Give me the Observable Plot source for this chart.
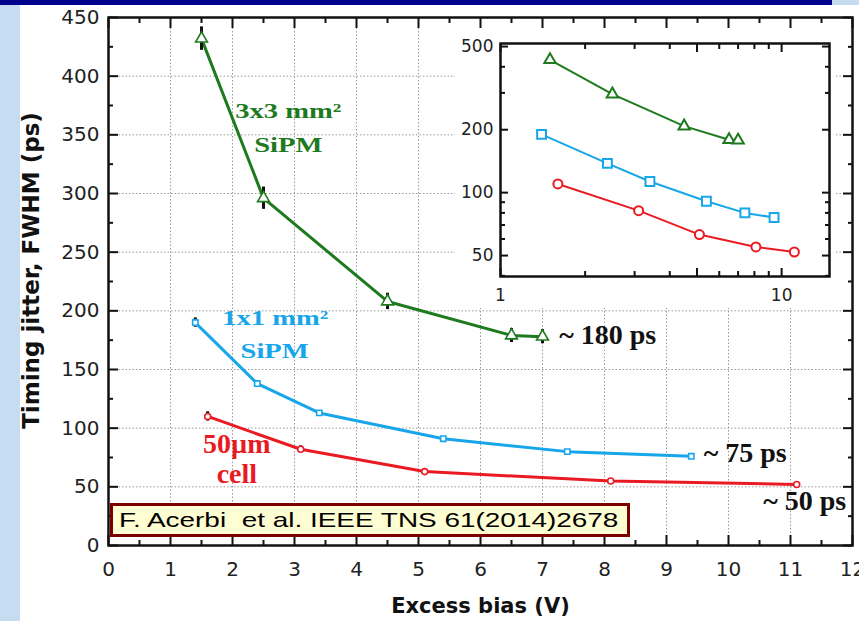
<!DOCTYPE html>
<html>
<head>
<meta charset="utf-8">
<script src="https://cdn.jsdelivr.net/npm/d3@7"></script>
<script src="https://cdn.jsdelivr.net/npm/@observablehq/plot@0.6"></script>
<style>
  html, body { margin: 0; padding: 0; background: #fff; }
  #slide { position: relative; width: 859px; height: 621px; overflow: hidden; background: #fff; }
  #strip { position: absolute; left: 0; top: 0; width: 20px; height: 621px; background: #c6dcf1; }
  #bar { position: absolute; left: 0; top: 0; width: 832px; height: 5px; background: #00008c; }
  #barEnd { position: absolute; left: 832px; top: 0; width: 27px; height: 5px; background: #c6dcf1; }
  #main { position: absolute; left: 0; top: 0; }
  #inset { position: absolute; left: 455px; top: 28px; }
  #cite { position: absolute; left: 110px; top: 503px; width: 520px; height: 34px; box-sizing: border-box;
          border: 3px solid #7d0000; background: #fffdd2; }
  #cite span { position: absolute; left: 6px; top: 0; line-height: 28px; font-family: "Liberation Sans", Arial, sans-serif;
               font-size: 21px; color: #000; white-space: pre; transform: scaleX(1.33); transform-origin: left center; }
</style>
</head>
<body>
<div id="slide">
  <div id="strip"></div>
  <div id="bar"></div>
  <div id="barEnd"></div>
  <div id="main"></div>
  <div id="inset"></div>
  <div id="cite"><span>F. Acerbi  et al. IEEE TNS 61(2014)2678</span></div>
</div>
<script>
// Timing jitter (FWHM, ps) versus excess bias (V) for three devices
const seriesNames = ["3x3", "1x1", "50µm"];

const bias3x3   = [1.5, 2.5, 4.5, 6.5, 7.0];
const jitter3x3 = [432, 296, 208, 179, 178];
const err3x3    = [10, 9.5, 7, 6, 6];

const bias1x1   = [1.4, 2.4, 3.4, 5.4, 7.4, 9.4];
const jitter1x1 = [190, 138, 113, 91, 80, 76];
const err1x1    = [4, 0, 0, 0, 0, 0];

const bias50    = [1.6, 3.1, 5.1, 8.1, 11.1];
const jitter50  = [110, 82, 63, 55, 52];
const err50     = [4, 3, 0, 0, 0];

// tick values
const xTicks = d3.range(0, 13);
const xMinor = d3.range(0.5, 12, 1);
const yTicks = d3.range(0, 451, 50);
const yMinor = d3.range(25, 450, 50);
const insetXTicks = [1, 5, 10];
const insetXMinor = [2, 3, 4, 6, 7, 8, 9];
const insetYTicks = [50, 100, 200, 500];
const insetYMinor = [40, 60, 70, 80, 90, 300, 400];

// text annotations (data units)
const deviceLabels = [
  {text: "3x3 mm²", x: 2.90, y: 364, series: "3x3"},
  {text: "SiPM",    x: 2.90, y: 335, series: "3x3"},
  {text: "1x1 mm²", x: 2.69, y: 188, series: "1x1"},
  {text: "SiPM",    x: 2.68, y: 160, series: "1x1"}
];
const cellLabels = [
  {text: "50µm", x: 2.07, y: 79, series: "50µm"},
  {text: "cell", x: 2.07, y: 53, series: "50µm"}
];
const plateauLabels = [
  {text: "~ 180 ps", x: 7.27, y: 172},
  {text: "~ 75 ps",  x: 9.60, y: 71},
  {text: "~ 50 ps",  x: 10.56, y: 30}
];
const xTitle = "Excess bias (V)";
const yTitle = "Timing jitter, FWHM (ps)";

// build a tidy table from the arrays
const rows = [
  ...bias3x3.map((b, i) => ({series: "3x3", bias: b, jitter: jitter3x3[i], err: err3x3[i]})),
  ...bias1x1.map((b, i) => ({series: "1x1", bias: b, jitter: jitter1x1[i], err: err1x1[i]})),
  ...bias50.map((b, i) => ({series: "50µm", bias: b, jitter: jitter50[i], err: err50[i]}))
];

const colors = {domain: seriesNames, range: ["#1e7a1e", "#17a6ea", "#ea1a22"]};
const symbols = {domain: seriesNames, range: ["triangle", "square", "circle"]};
const mainR = {"3x3": 4.4, "1x1": 3.0, "50µm": 3.0};
const insetR = {"3x3": 4.2, "1x1": 5.0, "50µm": 4.5};

const ink = "#111";
const empty = () => "";

function boxTicks(xMaj, xMin, yMaj, yMin, majLen, minLen) {
  const out = [];
  for (const anchor of ["bottom", "top"]) {
    out.push(Plot.axisX(xMaj, {anchor, tickSize: -majLen, tickFormat: empty, label: null, stroke: ink, strokeWidth: 2}));
    out.push(Plot.axisX(xMin, {anchor, tickSize: -minLen, tickFormat: empty, label: null, stroke: ink, strokeWidth: 2}));
  }
  for (const anchor of ["left", "right"]) {
    out.push(Plot.axisY(yMaj, {anchor, tickSize: -majLen, tickFormat: empty, label: null, stroke: ink, strokeWidth: 2}));
    out.push(Plot.axisY(yMin, {anchor, tickSize: -minLen, tickFormat: empty, label: null, stroke: ink, strokeWidth: 2}));
  }
  return out;
}

const main = Plot.plot({
  width: 859,
  height: 621,
  marginLeft: 108,
  marginRight: 7,
  marginTop: 17,
  marginBottom: 76,
  style: {background: "transparent", fontFamily: "DejaVu Sans", fontSize: "20px", color: "#222", overflow: "visible"},
  x: {domain: [0, 12], axis: null, label: null},
  y: {domain: [0, 450], axis: null, label: null},
  color: colors,
  symbol: symbols,
  marks: [
    Plot.gridX(xTicks, {stroke: "#9a9a9a", strokeOpacity: 1, strokeDasharray: "1.5,2"}),
    Plot.gridY(yTicks, {stroke: "#9a9a9a", strokeOpacity: 1, strokeDasharray: "1.5,2"}),
    Plot.line(rows, {x: "bias", y: "jitter", z: "series", stroke: "series", strokeWidth: 3}),
    Plot.ruleX(rows.filter(d => d.err > 0), {x: "bias", y1: d => d.jitter - d.err, y2: d => d.jitter + d.err, stroke: ink, strokeWidth: 3}),
    ...seriesNames.map(s => Plot.dot(rows.filter(d => d.series === s), {
      x: "bias", y: "jitter", stroke: "series", symbol: "series", fill: "white", r: mainR[s], strokeWidth: 1.6
    })),
    Plot.text(deviceLabels, {x: "x", y: "y", text: "text", fill: "series", fontFamily: "Liberation Serif",
      fontWeight: "bold", fontSize: 22, textAnchor: "middle", lineAnchor: "bottom"}),
    Plot.text(cellLabels, {x: "x", y: "y", text: "text", fill: "series", fontFamily: "Liberation Serif",
      fontWeight: "bold", fontSize: 28, textAnchor: "middle", lineAnchor: "bottom"}),
    Plot.text(plateauLabels, {x: "x", y: "y", text: "text", fill: ink, fontFamily: "Liberation Serif",
      fontWeight: "bold", fontSize: 28, textAnchor: "start", lineAnchor: "bottom"}),
    Plot.frame({stroke: ink, strokeWidth: 2.5}),
    ...boxTicks(xTicks, xMinor, yTicks, yMinor, 10, 5),
    Plot.axisX(xTicks, {anchor: "bottom", tickSize: 0, tickPadding: 16, label: null, fill: "#222"}),
    Plot.axisY(yTicks, {anchor: "left", tickSize: 0, tickPadding: 9, label: null, fill: "#222"}),
    Plot.text([xTitle], {text: d => d, frameAnchor: "bottom", dy: 67, lineAnchor: "bottom", textAnchor: "middle",
      fontFamily: "DejaVu Sans", fontWeight: "bold", fontSize: 21, fill: ink}),
    Plot.text([yTitle], {text: d => d, frameAnchor: "left", dx: -77, dy: -11, rotate: -90, lineAnchor: "middle",
      textAnchor: "middle", fontFamily: "DejaVu Sans", fontWeight: "bold", fontSize: 23, fill: ink})
  ]
});

// device labels are set in a wide face: stretch them horizontally
d3.select(main).selectAll('g[font-size="22"] text').each(function() {
  const t = this.getAttribute("transform") || "";
  this.setAttribute("transform", t + " scale(1.3,1)");
});

document.getElementById("main").appendChild(main);

const inset = Plot.plot({
  width: 381,
  height: 280,
  marginLeft: 45,
  marginRight: 7,
  marginTop: 15,
  marginBottom: 32,
  style: {background: "white", fontFamily: "DejaVu Sans", fontSize: "17px", color: "#222"},
  x: {type: "log", domain: [1, 14.8], axis: null, label: null},
  y: {type: "log", domain: [39.7, 517], axis: null, label: null},
  color: colors,
  symbol: symbols,
  marks: [
    Plot.line(rows, {x: "bias", y: "jitter", z: "series", stroke: "series", strokeWidth: 2}),
    ...seriesNames.map(s => Plot.dot(rows.filter(d => d.series === s), {
      x: "bias", y: "jitter", stroke: "series", symbol: "series", fill: "white", r: insetR[s], strokeWidth: 2
    })),
    Plot.frame({stroke: ink, strokeWidth: 2.5}),
    ...boxTicks(insetXTicks, insetXMinor, insetYTicks, insetYMinor, 8, 5),
    Plot.axisX(insetXTicks, {anchor: "bottom", tickSize: 0, tickPadding: 12, label: null, tickFormat: d => String(d), fill: "#222"}),
    Plot.axisY(insetYTicks, {anchor: "left", tickSize: 0, tickPadding: 7, label: null, tickFormat: d => String(d), fill: "#222"})
  ]
});
document.getElementById("inset").appendChild(inset);
</script>
</body>
</html>
